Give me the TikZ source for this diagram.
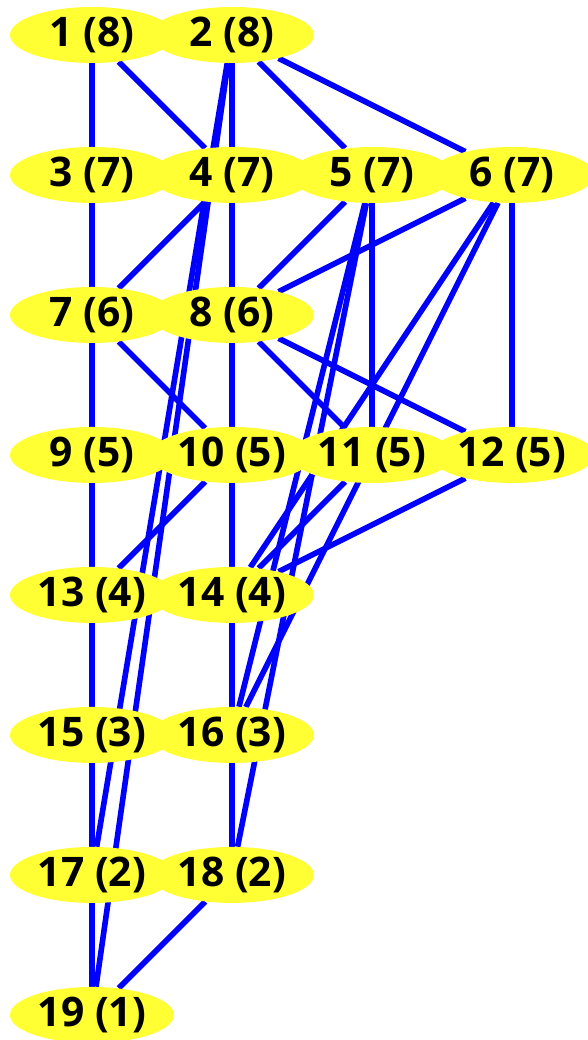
\documentclass[tikz,border=0pt]{standalone}
\usepackage{fontspec}
\setmainfont{Open Sans}
\usetikzlibrary{shapes.geometric}
\pgfdeclarelayer{bg}
\pgfsetlayers{bg,main}
\definecolor{nodeyellow}{RGB}{255,255,51}
\begin{document}
\begin{tikzpicture}[x=3.5cm,y=3.5cm,
  vertex/.style={ellipse,fill=nodeyellow,inner sep=0pt,minimum width=4.1cm,
    minimum height=1.4cm,font=\fontsize{29}{31}\selectfont\bfseries},
  link/.style={blue,line width=4pt}]
  \useasboundingbox (-0.657,0.25) rectangle (3.543,-7.179);
  % rank 8 and 7
  \node[vertex] (n1) at (0,0) {1 (8)};
  \node[vertex] (n2) at (1,0) {2 (8)};
  \node[vertex] (n3) at (0,-1) {3 (7)};
  \node[vertex] (n4) at (1,-1) {4 (7)};
  \node[vertex] (n5) at (2,-1) {5 (7)};
  \node[vertex] (n6) at (3,-1) {6 (7)};
  % rank 6 and 5
  \node[vertex] (n7) at (0,-2) {7 (6)};
  \node[vertex] (n8) at (1,-2) {8 (6)};
  \node[vertex] (n9) at (0,-3) {9 (5)};
  \node[vertex] (n10) at (1,-3) {10 (5)};
  \node[vertex] (n11) at (2,-3) {11 (5)};
  \node[vertex] (n12) at (3,-3) {12 (5)};
  % rank 4 down to 1
  \node[vertex] (n13) at (0,-4) {13 (4)};
  \node[vertex] (n14) at (1,-4) {14 (4)};
  \node[vertex] (n15) at (0,-5) {15 (3)};
  \node[vertex] (n16) at (1,-5) {16 (3)};
  \node[vertex] (n17) at (0,-6) {17 (2)};
  \node[vertex] (n18) at (1,-6) {18 (2)};
  \node[vertex] (n19) at (0,-7) {19 (1)};
  % edges, under the nodes
  \begin{pgfonlayer}{bg}
    \draw[link] (n1) -- (n3);
    \draw[link] (n1) -- (n4);
    \draw[link] (n2) -- (n4);
    \draw[link] (n2) -- (n5);
    \draw[link] (n2) -- (n6);
    \draw[link] (n2) -- (n17);
    \draw[link] (n2) -- (n19);
    \draw[link] (n3) -- (n7);
    \draw[link] (n4) -- (n7);
    \draw[link] (n4) -- (n8);
    \draw[link] (n5) -- (n8);
    \draw[link] (n5) -- (n11);
    \draw[link] (n5) -- (n16);
    \draw[link] (n5) -- (n18);
    \draw[link] (n6) -- (n8);
    \draw[link] (n6) -- (n12);
    \draw[link] (n6) -- (n14);
    \draw[link] (n6) -- (n16);
    \draw[link] (n7) -- (n9);
    \draw[link] (n7) -- (n10);
    \draw[link] (n8) -- (n10);
    \draw[link] (n8) -- (n11);
    \draw[link] (n8) -- (n12);
    \draw[link] (n9) -- (n13);
    \draw[link] (n10) -- (n13);
    \draw[link] (n10) -- (n14);
    \draw[link] (n11) -- (n14);
    \draw[link] (n12) -- (n14);
    \draw[link] (n13) -- (n15);
    \draw[link] (n14) -- (n16);
    \draw[link] (n15) -- (n17);
    \draw[link] (n16) -- (n18);
    \draw[link] (n17) -- (n19);
    \draw[link] (n18) -- (n19);
  \end{pgfonlayer}
\end{tikzpicture}
\end{document}
